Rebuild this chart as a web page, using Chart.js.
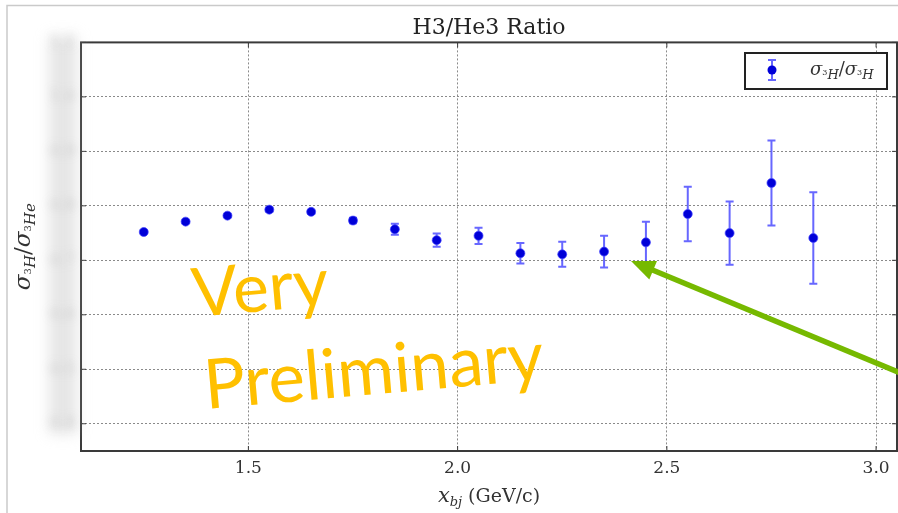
<!DOCTYPE html>
<html>
<head>
<meta charset="utf-8">
<title>H3/He3 Ratio</title>
<script src="https://cdn.jsdelivr.net/npm/chart.js@4.4.1/dist/chart.umd.min.js"></script>
<style>
    body { margin: 0; background: #fff; }
    canvas { display: block; }
</style>
</head>
<body>
<canvas id="ratioChart" width="898" height="513"></canvas>
<script>
var xValues = [1.25, 1.35, 1.45, 1.55, 1.65, 1.75, 1.85, 1.95, 2.05, 2.15, 2.25, 2.35, 2.45, 2.55, 2.65, 2.75, 2.85];
var ratio = [0.752, 0.771, 0.782, 0.793, 0.789, 0.773, 0.757, 0.737, 0.745, 0.713, 0.711, 0.716, 0.733, 0.785, 0.750, 0.842, 0.741];
var ratioErr = [0.003, 0.003, 0.003, 0.004, 0.004, 0.005, 0.010, 0.012, 0.015, 0.019, 0.023, 0.029, 0.038, 0.050, 0.058, 0.078, 0.084];
var xTicks = [1.5, 2.0, 2.5, 3.0];
var yTicks = [0.4, 0.5, 0.6, 0.7, 0.8, 0.9, 1.0, 1.1];

var serif = '"DejaVu Serif"';
var markerColor = "#0000d8";
var errColor = "rgba(60, 60, 255, 0.78)";

// draws pieces of text one after another (for sub/superscripts)
function drawRuns(ctx, runs, x, y) {
    runs.forEach(function (r) {
        ctx.font = r[1];
        ctx.fillText(r[0], x, y + r[2]);
        x += ctx.measureText(r[0]).width;
    });
}
function runsWidth(ctx, runs) {
    var w = 0;
    runs.forEach(function (r) {
        ctx.font = r[1];
        w += ctx.measureText(r[0]).width;
    });
    return w;
}

var yLabelRuns = [
    ["σ", "italic 23px " + serif, 0],
    ["3", "10px " + serif, 1],
    ["H", "italic 15px " + serif, 5],
    ["/", "23px " + serif, 0],
    ["σ", "italic 23px " + serif, 0],
    ["3", "10px " + serif, 1],
    ["He", "italic 15px " + serif, 5]
];
var legendRuns = [
    ["σ", "italic 18px " + serif, 0],
    ["3", "8px " + serif, 0],
    ["H", "italic 13px " + serif, 4],
    ["/", "18px " + serif, 0],
    ["σ", "italic 18px " + serif, 0],
    ["3", "8px " + serif, 0],
    ["H", "italic 13px " + serif, 4]
];
var xLabelRuns = [
    ["x", "italic 21px " + serif, 0],
    ["bj", "italic 13px " + serif, 4],
    [" (GeV/c)", "19px " + serif, 0]
];

var extras = {
    id: "extras",
    beforeDraw: function (chart) {
        var ctx = chart.ctx;
        // slide frame
        ctx.save();
        ctx.strokeStyle = "#cacaca";
        ctx.lineWidth = 1.5;
        ctx.beginPath();
        ctx.moveTo(7, 513);
        ctx.lineTo(7, 5.5);
        ctx.lineTo(898, 5.5);
        ctx.stroke();
        ctx.restore();
    },
    beforeDatasetsDraw: function (chart) {
        var ctx = chart.ctx, xs = chart.scales.x, ys = chart.scales.y;
        ctx.save();
        ctx.strokeStyle = errColor;
        ctx.lineWidth = 2;
        for (var i = 0; i < xValues.length; i++) {
            var px = xs.getPixelForValue(xValues[i]);
            var top = ys.getPixelForValue(ratio[i] + ratioErr[i]);
            var bot = ys.getPixelForValue(ratio[i] - ratioErr[i]);
            ctx.beginPath();
            ctx.moveTo(px, top); ctx.lineTo(px, bot);
            ctx.moveTo(px - 4, top); ctx.lineTo(px + 4, top);
            ctx.moveTo(px - 4, bot); ctx.lineTo(px + 4, bot);
            ctx.stroke();
        }
        ctx.restore();
    },
    afterDraw: function (chart) {
        var ctx = chart.ctx, a = chart.chartArea;
        var xs = chart.scales.x, ys = chart.scales.y;

        // axes frame and inward ticks
        ctx.save();
        ctx.strokeStyle = "#3a3a3a";
        ctx.lineWidth = 2;
        ctx.strokeRect(a.left, a.top, a.right - a.left, a.bottom - a.top);
        ctx.lineWidth = 1;
        ctx.beginPath();
        ys.ticks.forEach(function (t) {
            var py = ys.getPixelForValue(t.value);
            ctx.moveTo(a.left, py); ctx.lineTo(a.left + 5, py);
            ctx.moveTo(a.right, py); ctx.lineTo(a.right - 5, py);
        });
        xs.ticks.forEach(function (t) {
            var px = xs.getPixelForValue(t.value);
            ctx.moveTo(px, a.bottom); ctx.lineTo(px, a.bottom - 5);
            ctx.moveTo(px, a.top); ctx.lineTo(px, a.top + 5);
        });
        ctx.stroke();
        ctx.restore();

        // smudged y tick labels
        ctx.save();
        ctx.filter = "blur(7px)";
        ctx.fillStyle = "rgba(200, 200, 200, 0.45)";
        ctx.fillRect(49, 36, 28, 398);
        ctx.filter = "blur(4px)";
        ctx.fillStyle = "rgba(120, 120, 120, 0.28)";
        ctx.font = "17px " + serif;
        ctx.textAlign = "right";
        ctx.textBaseline = "middle";
        ys.ticks.forEach(function (t) {
            ctx.fillText(t.value.toFixed(1), 76, ys.getPixelForValue(t.value));
        });
        ctx.restore();

        // axis labels
        ctx.save();
        ctx.fillStyle = "#333";
        ctx.textAlign = "left";
        ctx.textBaseline = "alphabetic";
        var w = runsWidth(ctx, xLabelRuns);
        drawRuns(ctx, xLabelRuns, (a.left + a.right) / 2 - w / 2, 502);
        ctx.translate(30, (a.top + a.bottom) / 2);
        ctx.rotate(-Math.PI / 2);
        w = runsWidth(ctx, yLabelRuns);
        drawRuns(ctx, yLabelRuns, -w / 2, 0);
        ctx.restore();

        // legend
        ctx.save();
        ctx.fillStyle = "#fff";
        ctx.fillRect(745, 53, 142, 36);
        ctx.strokeStyle = "#222";
        ctx.lineWidth = 2;
        ctx.strokeRect(745, 53, 142, 36);
        ctx.strokeStyle = errColor;
        ctx.beginPath();
        ctx.moveTo(772, 60); ctx.lineTo(772, 80);
        ctx.moveTo(768, 60); ctx.lineTo(776, 60);
        ctx.moveTo(768, 80); ctx.lineTo(776, 80);
        ctx.stroke();
        ctx.fillStyle = markerColor;
        ctx.beginPath();
        ctx.arc(772, 70, 4.5, 0, Math.PI * 2);
        ctx.fill();
        ctx.fillStyle = "#333";
        drawRuns(ctx, legendRuns, 810, 75);
        ctx.restore();

        // stamp
        ctx.save();
        ctx.fillStyle = "#ffc000";
        ctx.font = '68px Lato';
        ctx.translate(194, 317);
        ctx.rotate(-5 * Math.PI / 180);
        ctx.fillText("Very", 0, 0);
        ctx.restore();
        ctx.save();
        ctx.fillStyle = "#ffc000";
        ctx.font = '69px Lato';
        ctx.translate(206, 409);
        ctx.rotate(-5 * Math.PI / 180);
        ctx.fillText("Preliminary", 0, 0);
        ctx.restore();

        // pointer arrow
        var tx = 631, ty = 261;
        var ux = 0.923, uy = 0.384;
        var bx = tx + 24 * ux, by = ty + 24 * uy;
        ctx.save();
        ctx.strokeStyle = "#76b900";
        ctx.fillStyle = "#76b900";
        ctx.lineWidth = 5.5;
        ctx.beginPath();
        ctx.moveTo(tx + 360 * ux, ty + 360 * uy);
        ctx.lineTo(bx - 2 * ux, by - 2 * uy);
        ctx.stroke();
        ctx.beginPath();
        ctx.moveTo(tx, ty);
        ctx.lineTo(bx - 10 * uy, by + 10 * ux);
        ctx.lineTo(bx + 10 * uy, by - 10 * ux);
        ctx.closePath();
        ctx.fill();
        ctx.restore();
    }
};

new Chart("ratioChart", {
    type: "scatter",
    data: {
        datasets: [{
            label: "σ3H/σ3H",
            data: xValues.map(function (x, i) { return { x: x, y: ratio[i] }; }),
            pointRadius: 4.5,
            pointBackgroundColor: markerColor,
            pointBorderColor: "rgba(70, 70, 255, 0.7)",
            pointBorderWidth: 1
        }]
    },
    options: {
        responsive: false,
        devicePixelRatio: 1,
        animation: false,
        layout: { autoPadding: false, padding: { left: 0, right: 1, top: 0, bottom: 0 } },
        plugins: {
            legend: { display: false },
            tooltip: { enabled: false },
            title: {
                display: true,
                fullSize: false,
                text: "H3/He3 Ratio",
                color: "#222",
                font: { family: "DejaVu Serif", size: 22, weight: "normal" },
                padding: { top: 15, bottom: 1 }
            }
        },
        scales: {
            x: {
                type: "linear",
                min: 1.1,
                max: 3.05,
                afterBuildTicks: function (s) { s.ticks = xTicks.map(function (v) { return { value: v }; }); },
                afterFit: function (s) { s.height = 62; s.paddingLeft = 0; s.paddingRight = 0; },
                ticks: {
                    callback: function (v) { return v.toFixed(1); },
                    color: "#333",
                    font: { family: "DejaVu Serif", size: 17 },
                    padding: 7
                },
                grid: { color: "#8a8a8a", lineWidth: 1, drawTicks: false },
                border: { display: false, dash: [2, 2] }
            },
            y: {
                min: 0.35,
                max: 1.1,
                afterBuildTicks: function (s) { s.ticks = yTicks.map(function (v) { return { value: v }; }); },
                afterFit: function (s) { s.width = 81; s.paddingTop = 0; s.paddingBottom = 0; },
                ticks: { display: false },
                grid: { color: "#8a8a8a", lineWidth: 1, drawTicks: false },
                border: { display: false, dash: [2, 2] }
            }
        }
    },
    plugins: [extras]
});
</script>
</body>
</html>
